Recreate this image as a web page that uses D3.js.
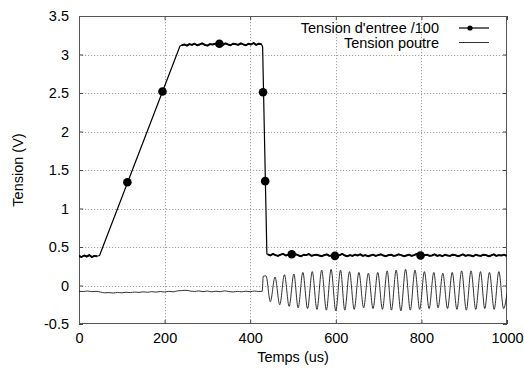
<!DOCTYPE html>
<html>
<head>
<meta charset="utf-8">
<script src="https://cdn.jsdelivr.net/npm/d3@7"></script>
<style>
  html, body { margin: 0; padding: 0; background: #fff; }
  svg { display: block; font-family: "Liberation Sans", Arial, Helvetica, sans-serif; }
</style>
</head>
<body>
<svg id="chart" width="524" height="369"></svg>
<script>
// Tension d'entree /100 : scope samples on the flat parts, corner points on the edges
const inputSampleStep = 6; // us between scope samples
const inputLowStart = 0;
const inputLowVolt = [0.385, 0.37, 0.39, 0.375, 0.395, 0.37, 0.385, 0.38];
const inputPlateauStart = 240;
const inputPlateauVolt = [3.12, 3.13, 3.115, 3.135, 3.125, 3.14, 3.12, 3.13, 3.145, 3.125, 3.115, 3.135,
  3.13, 3.14, 3.12, 3.135, 3.125, 3.145, 3.13, 3.12, 3.14, 3.135, 3.125, 3.145, 3.13, 3.12, 3.14,
  3.13, 3.15, 3.125, 3.14, 3.135];
const inputTailStart = 441;
const inputTailVolt = [0.405, 0.39, 0.41, 0.395, 0.385, 0.40, 0.41, 0.39, 0.40, 0.385, 0.395, 0.405,
  0.39, 0.38, 0.40, 0.395, 0.41, 0.385, 0.395, 0.40, 0.39, 0.38, 0.395, 0.405, 0.385, 0.39, 0.40,
  0.385, 0.395, 0.41, 0.39, 0.38, 0.395, 0.385, 0.40, 0.39, 0.405, 0.385, 0.395, 0.38, 0.39, 0.40,
  0.385, 0.395, 0.405, 0.39, 0.38, 0.395, 0.40, 0.385, 0.39, 0.405, 0.395, 0.38, 0.39, 0.40, 0.385,
  0.395, 0.41, 0.39, 0.38, 0.395, 0.40, 0.385, 0.39, 0.405, 0.385, 0.395, 0.38, 0.40, 0.39, 0.385,
  0.40, 0.395, 0.38, 0.39, 0.405, 0.385, 0.395, 0.39, 0.38, 0.40, 0.39, 0.385, 0.40, 0.395, 0.38,
  0.39, 0.405, 0.385, 0.395, 0.39, 0.40, 0.385];
const inputEdgeTime = [48, 236, 429, 439];
const inputEdgeVolt = [0.39, 3.11, 3.10, 0.41];

// Point markers of the input trace
const markerTime = [113, 195, 328, 430, 435, 497, 598, 798];
const markerVolt = [1.34, 2.52, 3.14, 2.51, 1.355, 0.405, 0.385, 0.39];

// Tension poutre : rest level every 10 us, then the turning points of the oscillation
const poutreRestStep = 10;
const poutreRestVolt = [-0.075, -0.078, -0.072, -0.080, -0.076, -0.085, -0.095, -0.092, -0.098, -0.090,
  -0.095, -0.088, -0.092, -0.085, -0.090, -0.082, -0.088, -0.080, -0.086, -0.078, -0.084, -0.076,
  -0.082, -0.070, -0.066, -0.062, -0.072, -0.078, -0.070, -0.080, -0.072, -0.082, -0.074, -0.080,
  -0.070, -0.078, -0.084, -0.076, -0.082, -0.074, -0.080, -0.072, -0.078];
const poutreSwingTime = [428, 430.5, 437, 447, 458, 469, 480, 491, 502, 512, 523, 534, 545, 556, 567,
  578, 589, 600, 611, 621, 632, 643, 654, 665, 676, 687, 698, 709, 720, 730, 741, 752, 763, 774, 785,
  796, 807, 818, 829, 839, 850, 861, 872, 883, 894, 905, 916, 927, 938, 948, 959, 970, 981, 992, 1000];
const poutreSwingVolt = [-0.075, 0.12, 0.125, -0.21, 0.11, -0.25, 0.14, -0.27, 0.15, -0.29, 0.17, -0.30,
  0.18, -0.31, 0.20, -0.32, 0.21, -0.33, 0.20, -0.32, 0.18, -0.31, 0.17, -0.29, 0.16, -0.30, 0.17,
  -0.31, 0.19, -0.32, 0.20, -0.33, 0.21, -0.32, 0.20, -0.31, 0.18, -0.30, 0.17, -0.29, 0.16, -0.30,
  0.17, -0.31, 0.19, -0.32, 0.19, -0.31, 0.18, -0.30, 0.17, -0.31, 0.18, -0.30, -0.10];

// Axes
const xTicks = [0, 200, 400, 600, 800, 1000];
const yTicks = [-0.5, 0, 0.5, 1, 1.5, 2, 2.5, 3, 3.5];
const xTitle = "Temps (us)";
const yTitle = "Tension (V)";
const legendLabels = ["Tension d'entree /100", "Tension poutre"];

// ---- assemble the traces ----
const sampled = (start, step, vals) => vals.map((v, i) => [start + i * step, v]);
const lowPts = sampled(inputLowStart, inputSampleStep, inputLowVolt);
const plateauPts = sampled(inputPlateauStart, inputSampleStep, inputPlateauVolt);
const tailPts = sampled(inputTailStart, inputSampleStep, inputTailVolt);
const inputPts = [...lowPts, ...plateauPts, ...tailPts,
  ...inputEdgeTime.map((t, i) => [t, inputEdgeVolt[i]])
].sort((a, b) => a[0] - b[0]);
const poutrePts = [
  ...sampled(0, poutreRestStep, poutreRestVolt),
  ...poutreSwingTime.map((t, i) => [t, poutreSwingVolt[i]])
];

// ---- drawing ----
const FONT = "14.5px";
const svg = d3.select("#chart");
const L = 79, R = 507, T = 16, B = 324;
const x = d3.scaleLinear().domain([0, 1000]).range([L, R]);
const y = d3.scaleLinear().domain([-0.5, 3.5]).range([B, T]);

// grid
const grid = svg.append("g").attr("stroke", "#8a8a8a").attr("stroke-width", 0.8)
  .attr("stroke-dasharray", "1.2,1.8");
grid.selectAll(".gx").data(xTicks.slice(1, -1)).join("line")
  .attr("x1", d => Math.round(x(d)) + 0.5).attr("x2", d => Math.round(x(d)) + 0.5)
  .attr("y1", T).attr("y2", B);
grid.selectAll(".gy").data(yTicks.slice(1, -1)).join("line")
  .attr("x1", L).attr("x2", R)
  .attr("y1", d => Math.round(y(d)) + 0.5).attr("y2", d => Math.round(y(d)) + 0.5);

// axes with inward ticks on all four sides
const fmt = d => String(d);
const axStyle = g => {
  g.select(".domain").remove();
  g.selectAll(".tick line").attr("stroke", "#444");
  g.selectAll(".tick text").attr("fill", "#000").style("font-size", FONT)
    .style("font-family", "'Liberation Sans', Arial, Helvetica, sans-serif");
};
svg.append("g").attr("transform", `translate(0,${B})`)
  .call(d3.axisBottom(x).tickValues(xTicks).tickFormat(fmt).tickSizeInner(-4).tickPadding(9))
  .call(axStyle);
svg.append("g").attr("transform", `translate(${L},0)`)
  .call(d3.axisLeft(y).tickValues(yTicks).tickFormat(fmt).tickSizeInner(-4).tickPadding(10))
  .call(axStyle);
svg.append("g").attr("transform", `translate(0,${T})`)
  .call(d3.axisTop(x).tickValues(xTicks).tickFormat("").tickSizeInner(-4))
  .call(axStyle);
svg.append("g").attr("transform", `translate(${R},0)`)
  .call(d3.axisRight(y).tickValues(yTicks).tickFormat("").tickSizeInner(-4))
  .call(axStyle);

// frame
svg.append("rect").attr("x", L + 0.5).attr("y", T + 0.5)
  .attr("width", R - L - 1).attr("height", B - T - 1)
  .attr("fill", "none").attr("stroke", "#555").attr("stroke-width", 1);

// traces
svg.append("clipPath").attr("id", "plotclip").append("rect")
  .attr("x", L).attr("y", T).attr("width", R - L).attr("height", B - T);
const plot = svg.append("g").attr("clip-path", "url(#plotclip)");

plot.append("path").datum(poutrePts)
  .attr("d", d3.line().x(d => x(d[0])).y(d => y(d[1])).curve(d3.curveMonotoneX))
  .attr("fill", "none").attr("stroke", "#1a1a1a").attr("stroke-width", 0.9);

const inputLine = d3.line().x(d => x(d[0])).y(d => y(d[1]));
plot.append("path").datum(inputPts)
  .attr("d", inputLine)
  .attr("fill", "none").attr("stroke", "#000").attr("stroke-width", 1.2)
  .attr("stroke-linejoin", "round");
// the noisy flat stretches read as a thicker band
plot.selectAll(".band").data([lowPts, plateauPts, tailPts]).join("path")
  .attr("d", inputLine)
  .attr("fill", "none").attr("stroke", "#000").attr("stroke-width", 1.9)
  .attr("stroke-linejoin", "round");

plot.selectAll(".mk").data(markerTime).join("circle")
  .attr("cx", d => x(d)).attr("cy", (d, i) => y(markerVolt[i]))
  .attr("r", 4.3).attr("fill", "#000");

// legend
const lg = svg.append("g").style("font-size", FONT);
legendLabels.forEach((txt, i) => {
  const cy = 28 + i * 14.5;
  lg.append("text").attr("x", 439).attr("y", cy).attr("dy", "0.35em")
    .attr("text-anchor", "end").attr("fill", "#000").text(txt);
  lg.append("line").attr("x1", 459).attr("x2", 489).attr("y1", cy).attr("y2", cy)
    .attr("stroke", i === 0 ? "#000" : "#1a1a1a").attr("stroke-width", i === 0 ? 1.2 : 0.9);
  if (i === 0) lg.append("circle").attr("cx", 470).attr("cy", cy).attr("r", 2.6).attr("fill", "#000");
});

// axis titles
svg.append("text").attr("x", (L + R) / 2).attr("y", 357).attr("dy", "0.35em")
  .attr("text-anchor", "middle").style("font-size", FONT).text(xTitle);
svg.append("text").attr("transform", `translate(18,${(T + B) / 2}) rotate(-90)`)
  .attr("dy", "0.35em").attr("text-anchor", "middle").style("font-size", FONT).text(yTitle);
</script>
</body>
</html>
